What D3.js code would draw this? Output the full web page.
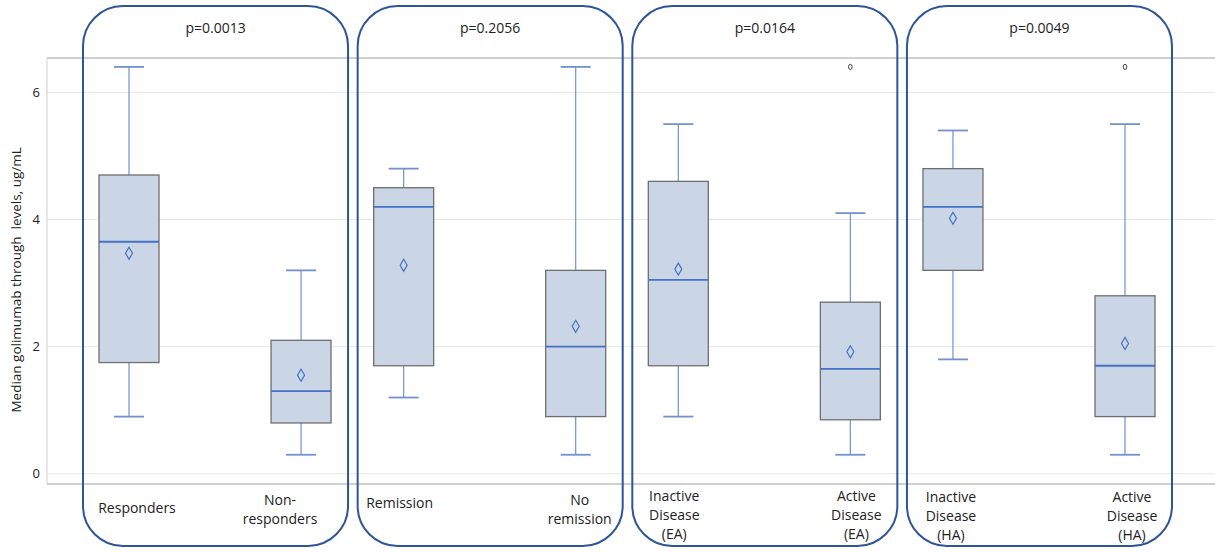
<!DOCTYPE html>
<html>
<head>
<meta charset="utf-8">
<script src="https://cdn.jsdelivr.net/npm/d3@7"></script>
<style>
  body { margin: 0; background: #fff; }
  text { font-family: "Open Sans", "Liberation Sans", sans-serif; fill: #222; }
</style>
</head>
<body>
<script>
// panels and their p-values
var panels = ["resp", "remi", "ea", "ha"];
var pValues = ["p=0.0013", "p=0.2056", "p=0.0164", "p=0.0049"];

// categories (two per panel), label lines
var categories = ["Responders", "Non-responders", "Remission", "No remission",
                  "Inactive EA", "Active EA", "Inactive HA", "Active HA"];
var catPanel = ["resp", "resp", "remi", "remi", "ea", "ea", "ha", "ha"];
var catLabels = [["Responders"], ["Non-", "responders"], ["Remission"], ["No", "remission"],
                 ["Inactive", "Disease", "(EA)"], ["Active", "Disease", "(EA)"],
                 ["Inactive", "Disease", "(HA)"], ["Active", "Disease", "(HA)"]];

// box statistics
var mins     = [0.9, 0.3, 1.2, 0.3, 0.9, 0.3, 1.8, 0.3];
var q1s      = [1.75, 0.8, 1.7, 0.9, 1.7, 0.85, 3.2, 0.9];
var medians  = [3.65, 1.3, 4.2, 2.0, 3.05, 1.65, 4.2, 1.7];
var q3s      = [4.7, 2.1, 4.5, 3.2, 4.6, 2.7, 4.8, 2.8];
var maxs     = [6.4, 3.2, 4.8, 6.4, 5.5, 4.1, 5.4, 5.5];
var means    = [3.47, 1.55, 3.28, 2.32, 3.22, 1.92, 4.02, 2.05];
var outliers = [[], [], [], [], [], [6.4], [], [6.4]];

var yTicks = [0, 2, 4, 6];

var W = 1215, H = 552;
var plotLeft = 47, plotRight = 1215, plotTop = 58, plotBottom = 484;

var svg = d3.select("body").append("svg").attr("width", W).attr("height", H);

var y = d3.scaleLinear().domain([-0.16, 6.54]).range([plotBottom, plotTop]);

var px = d3.scaleBand().domain(panels).range([83, 1172]).paddingInner(0.035);
var inner = d3.scalePoint().domain([0, 1]).range([46, px.bandwidth() - 47]);

function cx(i) { return px(catPanel[i]) + inner(i % 2); }

var boxW = 60, capW = 30;
var labelShift = [8, -21, -4, 4, -4, 6, -2, 7];
var labelTop = [508, 500, 503, 500, 496, 496, 497, 497];

// gridlines
svg.append("g").selectAll("line").data(yTicks).enter().append("line")
  .attr("x1", plotLeft).attr("x2", plotRight)
  .attr("y1", function(d) { return y(d); }).attr("y2", function(d) { return y(d); })
  .attr("stroke", "#e6e6e6").attr("stroke-width", 1);

// frame
svg.append("line").attr("x1", plotLeft).attr("x2", plotRight).attr("y1", plotTop).attr("y2", plotTop)
  .attr("stroke", "#c0c0c0").attr("stroke-width", 1.5);
svg.append("line").attr("x1", plotLeft).attr("x2", plotRight).attr("y1", plotBottom).attr("y2", plotBottom)
  .attr("stroke", "#c0c0c0").attr("stroke-width", 1.5);
svg.append("line").attr("x1", plotLeft).attr("x2", plotLeft).attr("y1", plotTop).attr("y2", plotBottom)
  .attr("stroke", "#d0d0d0").attr("stroke-width", 1);

// y axis
var yAxis = svg.append("g")
  .attr("transform", "translate(" + plotLeft + ",0)")
  .call(d3.axisLeft(y).tickValues(yTicks).tickFormat(d3.format("d")).tickSize(0).tickPadding(7));
yAxis.select(".domain").remove();
yAxis.selectAll("text").style("font-size", "13px").style("font-family", "'Open Sans', sans-serif").attr("fill", "#333");

svg.append("text")
  .attr("transform", "translate(21," + y(3.05) + ") rotate(-90)")
  .attr("text-anchor", "middle")
  .attr("xml:space", "preserve")
  .style("font-size", "13.5px")
  .text("Median golimumab through  levels, ug/mL");

// boxes
var boxes = svg.append("g").selectAll("g").data(categories).enter().append("g");

boxes.append("line")
  .attr("x1", function(d, i) { return cx(i); }).attr("x2", function(d, i) { return cx(i); })
  .attr("y1", function(d, i) { return y(maxs[i]); }).attr("y2", function(d, i) { return y(q3s[i]); })
  .attr("stroke", "#7490d0").attr("stroke-width", 1.2);
boxes.append("line")
  .attr("x1", function(d, i) { return cx(i); }).attr("x2", function(d, i) { return cx(i); })
  .attr("y1", function(d, i) { return y(q1s[i]); }).attr("y2", function(d, i) { return y(mins[i]); })
  .attr("stroke", "#7490d0").attr("stroke-width", 1.2);
boxes.append("line")
  .attr("x1", function(d, i) { return cx(i) - capW / 2; }).attr("x2", function(d, i) { return cx(i) + capW / 2; })
  .attr("y1", function(d, i) { return y(maxs[i]); }).attr("y2", function(d, i) { return y(maxs[i]); })
  .attr("stroke", "#7490d0").attr("stroke-width", 1.8);
boxes.append("line")
  .attr("x1", function(d, i) { return cx(i) - capW / 2; }).attr("x2", function(d, i) { return cx(i) + capW / 2; })
  .attr("y1", function(d, i) { return y(mins[i]); }).attr("y2", function(d, i) { return y(mins[i]); })
  .attr("stroke", "#7490d0").attr("stroke-width", 1.8);

boxes.append("rect")
  .attr("x", function(d, i) { return cx(i) - boxW / 2; })
  .attr("width", boxW)
  .attr("y", function(d, i) { return y(q3s[i]); })
  .attr("height", function(d, i) { return y(q1s[i]) - y(q3s[i]); })
  .attr("fill", "#cad5e6").attr("stroke", "#6f6f6f").attr("stroke-width", 1.3);

boxes.append("line")
  .attr("x1", function(d, i) { return cx(i) - boxW / 2; }).attr("x2", function(d, i) { return cx(i) + boxW / 2; })
  .attr("y1", function(d, i) { return y(medians[i]); }).attr("y2", function(d, i) { return y(medians[i]); })
  .attr("stroke", "#4472c4").attr("stroke-width", 1.8);

boxes.append("path")
  .attr("d", function(d, i) {
    var x0 = cx(i), y0 = y(means[i]);
    return "M" + x0 + "," + (y0 - 6) + "L" + (x0 + 3.5) + "," + y0 + "L" + x0 + "," + (y0 + 6) + "L" + (x0 - 3.5) + "," + y0 + "Z";
  })
  .attr("fill", "none").attr("stroke", "#4472c4").attr("stroke-width", 1.2);

boxes.each(function(d, i) {
  d3.select(this).selectAll("ellipse").data(outliers[i]).enter().append("ellipse")
    .attr("cx", cx(i)).attr("cy", function(v) { return y(v); })
    .attr("rx", 1.8).attr("ry", 2.6)
    .attr("fill", "none").attr("stroke", "#444").attr("stroke-width", 1);
});

// category labels
boxes.each(function(d, i) {
  var t = d3.select(this).append("text")
    .attr("text-anchor", "middle")
    .style("font-size", "14px");
  t.selectAll("tspan").data(catLabels[i]).enter().append("tspan")
    .attr("x", cx(i) + labelShift[i])
    .attr("y", function(s, j) { return labelTop[i] + 5 + j * 19; })
    .text(function(s) { return s; });
});

// rounded panel outlines
svg.append("g").selectAll("rect").data(panels).enter().append("rect")
  .attr("x", function(d) { return px(d); })
  .attr("width", px.bandwidth())
  .attr("y", 6).attr("height", 540)
  .attr("rx", 40).attr("ry", 40)
  .attr("fill", "none").attr("stroke", "#2f5597").attr("stroke-width", 2);

svg.append("g").selectAll("text").data(panels).enter().append("text")
  .attr("x", function(d) { return px(d) + px.bandwidth() / 2; })
  .attr("y", 33)
  .attr("text-anchor", "middle")
  .style("font-size", "14px")
  .text(function(d, i) { return pValues[i]; });
</script>
</body>
</html>
